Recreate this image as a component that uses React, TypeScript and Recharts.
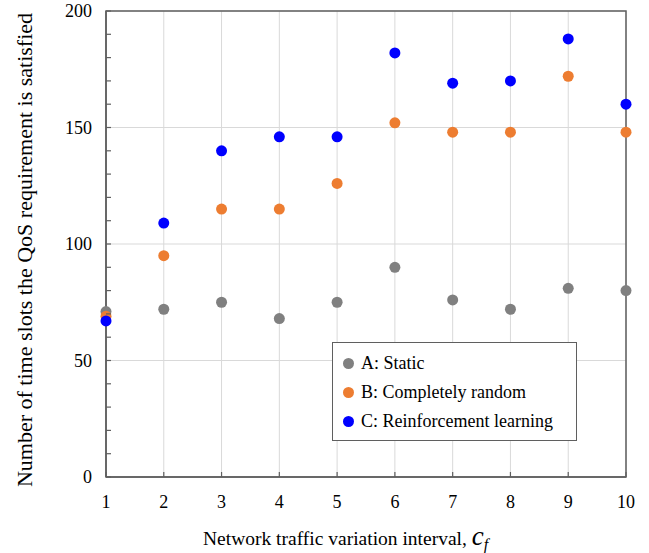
import React from "react";
import {
  CartesianGrid,
  ReferenceArea,
  Scatter,
  ScatterChart,
  XAxis,
  YAxis,
} from "recharts";

const intervals = [1, 2, 3, 4, 5, 6, 7, 8, 9, 10];
const staticSlots = [71, 72, 75, 68, 75, 90, 76, 72, 81, 80];
const randomSlots = [69, 95, 115, 115, 126, 152, 148, 148, 172, 148];
const rlSlots = [67, 109, 140, 146, 146, 182, 169, 170, 188, 160];
const yMajorTicks = [0, 50, 100, 150, 200];
const yMinorTicks = [0, 10, 20, 30, 40, 50, 60, 70, 80, 90, 100, 110, 120, 130, 140, 150, 160, 170, 180, 190, 200];

const series = [
  { name: "A: Static", color: "#808080", values: staticSlots },
  { name: "B: Completely random", color: "#ED7D31", values: randomSlots },
  { name: "C: Reinforcement learning", color: "#0000FF", values: rlSlots },
];

const FONT = "'Liberation Serif', 'Times New Roman', serif";
const AXIS = "#5f5f5f";
const TICK_MARGIN_X = 8;
const TICK_MARGIN_Y = 14;

const toPoints = (values: number[]) =>
  intervals.map((x, i) => ({ x, y: values[i] }));

function LegendBox() {
  return (
    <div
      style={{
        position: "absolute",
        left: 332,
        top: 342,
        width: 245,
        height: 99,
        border: `1px solid ${AXIS}`,
        background: "#fff",
        fontFamily: FONT,
        fontSize: 18,
        color: "#000",
        boxSizing: "border-box",
        paddingTop: 6,
      }}
    >
      {series.map(s => (
        <div key={s.name} style={{ display: "flex", alignItems: "center", height: 29 }}>
          <span
            style={{
              display: "inline-block",
              width: 11,
              height: 11,
              borderRadius: "50%",
              background: s.color,
              marginLeft: 10,
              marginRight: 7,
            }}
          />
          <span>{s.name}</span>
        </div>
      ))}
    </div>
  );
}

// titles drawn in an overlay so the font is not touched by recharts
function Titles() {
  return (
    <svg
      width={649}
      height={553}
      style={{ position: "absolute", left: 0, top: 0, pointerEvents: "none" }}
    >
      <text
        x={32}
        y={250}
        transform="rotate(-90 32 250)"
        textAnchor="middle"
        style={{ fontFamily: FONT, fontSize: 22 }}
        fill="#000"
      >
        Number of time slots the QoS requirement is satisfied
      </text>
      <text x={203} y={545} style={{ fontFamily: FONT, fontSize: 19.5 }} fill="#000">
        Network traffic variation interval,{" "}
        <tspan style={{ fontSize: 27, fontStyle: "italic" }}>c</tspan>
        <tspan style={{ fontSize: 16, fontStyle: "italic" }} dy={5}>f</tspan>
      </text>
    </svg>
  );
}

function XTick(p: any) {
  const axisY = p.y - TICK_MARGIN_X;
  return (
    <g>
      <line x1={p.x} x2={p.x} y1={axisY} y2={axisY - 5} stroke={AXIS} strokeWidth={1.2} />
      <text x={p.x} y={p.y + 23} textAnchor="middle" style={{ fontFamily: FONT, fontSize: 18 }} fill="#000">
        {p.payload.value}
      </text>
    </g>
  );
}

function YTick(p: any) {
  const axisX = p.x + TICK_MARGIN_Y;
  const v = p.payload.value;
  return (
    <g>
      <line x1={axisX} x2={axisX + 5} y1={p.y} y2={p.y} stroke={AXIS} strokeWidth={1.2} />
      {yMajorTicks.includes(v) && (
        <text x={p.x} y={p.y + 6} textAnchor="end" style={{ fontFamily: FONT, fontSize: 18 }} fill="#000">
          {v}
        </text>
      )}
    </g>
  );
}

export default function App() {
  return (
    <div style={{ position: "absolute", left: 0, top: 0, width: 649, height: 553, background: "#fff" }}>
      <ScatterChart
        width={649}
        height={553}
        margin={{ top: 11, right: 23, bottom: 0, left: 0 }}
      >
        <CartesianGrid
          stroke="#d9d9d9"
          verticalValues={intervals}
          horizontalValues={yMajorTicks}
        />
        <XAxis
          type="number"
          dataKey="x"
          domain={[1, 10]}
          ticks={intervals}
          interval={0}
          height={76}
          tickSize={0}
          tickMargin={TICK_MARGIN_X}
          tickLine={false}
          stroke={AXIS}
          strokeWidth={1.5}
          tick={<XTick />}
        />
        <YAxis
          type="number"
          dataKey="y"
          domain={[0, 200]}
          ticks={yMinorTicks}
          interval={0}
          width={106}
          tickSize={0}
          tickMargin={TICK_MARGIN_Y}
          tickLine={false}
          stroke={AXIS}
          strokeWidth={1.5}
          tick={<YTick />}
        />
        <ReferenceArea
          x1={1}
          x2={10}
          y1={0}
          y2={200}
          fill="none"
          stroke={AXIS}
          strokeWidth={1.5}
          strokeOpacity={1}
        />
        {series.map(s => (
          <Scatter
            key={s.name}
            name={s.name}
            data={toPoints(s.values)}
            fill={s.color}
            shape={(p: any) => <circle cx={p.cx} cy={p.cy} r={5.5} fill={s.color} />}
            isAnimationActive={false}
          />
        ))}
      </ScatterChart>
      <Titles />
      <LegendBox />
    </div>
  );
}
